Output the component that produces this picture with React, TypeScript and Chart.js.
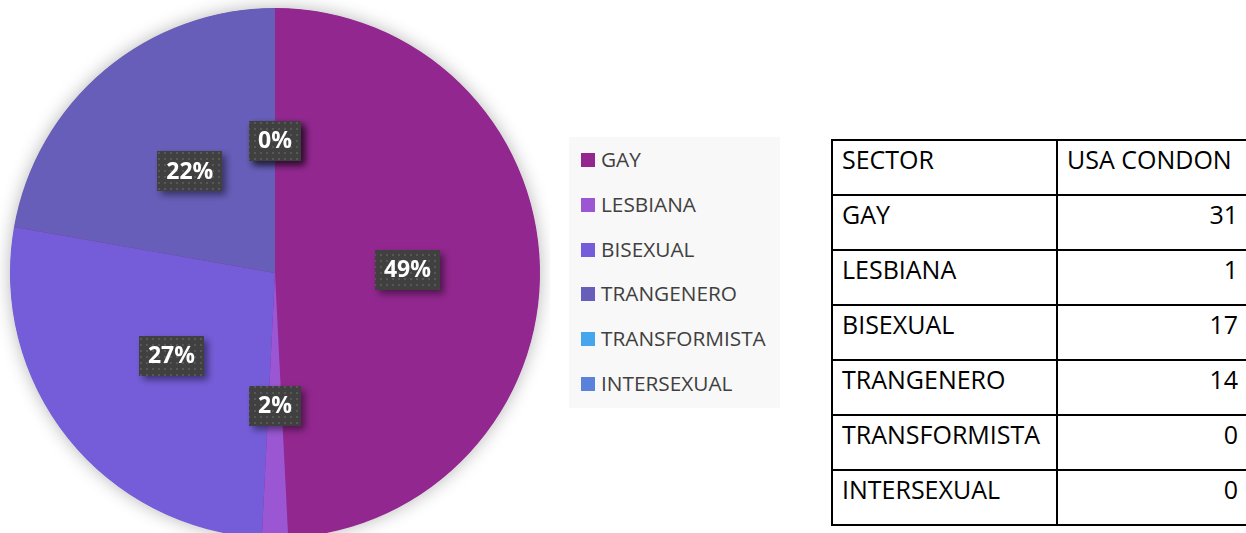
import React, { useEffect, useRef } from 'react';
import { Chart, registerables } from 'chart.js';

Chart.register(...registerables);

const categories = ['GAY', 'LESBIANA', 'BISEXUAL', 'TRANGENERO', 'TRANSFORMISTA', 'INTERSEXUAL'];
const values = [31, 1, 17, 14, 0, 0];
const colors = ['#92278F', '#9B57D3', '#755DD9', '#665EB8', '#45A5ED', '#5982DB'];
const tableHeader = ['SECTOR', 'USA CONDON'];

const FONT = '"Open Sans", "DejaVu Sans", sans-serif';

export default function App() {
  const ref = useRef<HTMLCanvasElement>(null);

  useEffect(() => {
    const canvas = ref.current;
    if (!canvas) return;
    const total = values.reduce((a, b) => a + b, 0);

    const pc = document.createElement('canvas');
    pc.width = 6;
    pc.height = 6;
    const pctx = pc.getContext('2d')!;
    pctx.fillStyle = '#404040';
    pctx.fillRect(0, 0, 6, 6);
    pctx.fillStyle = '#575757';
    pctx.fillRect(2, 2, 2, 2);

    const shadowPlugin = {
      id: 'pieShadow',
      beforeDatasetsDraw(chart: any) {
        const arc = chart.getDatasetMeta(0).data[0];
        if (!arc) return;
        const { x, y, outerRadius } = arc.getProps(['x', 'y', 'outerRadius'], true);
        const ctx = chart.ctx;
        ctx.save();
        ctx.shadowColor = 'rgba(0,0,0,0.3)';
        ctx.shadowBlur = 18;
        ctx.fillStyle = colors[0];
        ctx.beginPath();
        ctx.arc(x, y, outerRadius - 0.5, 0, Math.PI * 2);
        ctx.fill();
        ctx.restore();
      },
    };

    const labelPlugin = {
      id: 'pctLabels',
      afterDatasetsDraw(chart: any) {
        const ctx = chart.ctx;
        const pattern = ctx.createPattern(pc, 'repeat');
        const meta = chart.getDatasetMeta(0);
        meta.data.forEach((arc: any, i: number) => {
          const p = arc.getCenterPoint();
          const txt = Math.round((values[i] / total) * 100) + '%';
          ctx.save();
          ctx.font = `bold 23px ${FONT}`;
          const w = ctx.measureText(txt).width + 18;
          const h = 40;
          ctx.shadowColor = 'rgba(0,0,0,0.45)';
          ctx.shadowBlur = 7;
          ctx.shadowOffsetX = 4;
          ctx.shadowOffsetY = 4;
          ctx.fillStyle = pattern || '#404040';
          ctx.fillRect(Math.round(p.x - w / 2), Math.round(p.y - h / 2), Math.round(w), h);
          ctx.shadowColor = 'transparent';
          ctx.fillStyle = '#ffffff';
          ctx.textAlign = 'center';
          ctx.textBaseline = 'middle';
          ctx.fillText(txt, p.x, p.y + 1);
          ctx.restore();
        });
      },
    };

    const chart = new Chart(canvas, {
      type: 'pie',
      data: {
        labels: categories,
        datasets: [{ data: values, backgroundColor: colors, borderWidth: 0 }],
      },
      options: {
        responsive: false,
        animation: false,
        devicePixelRatio: 1,
        layout: { padding: { top: 8, bottom: 8, left: 10, right: 10 } },
        plugins: { legend: { display: false }, tooltip: { enabled: false } },
      },
      plugins: [shadowPlugin, labelPlugin],
    } as any);
    return () => chart.destroy();
  }, []);

  const rowTop = (i: number) => 139 + 55 * i;
  const tableRows = [tableHeader, ...categories.map((c, i) => [c, String(values[i])])];

  return (
    <div style={{ position: 'fixed', left: 0, top: 0, width: 1246, height: 533, overflow: 'hidden', background: '#fff', fontFamily: FONT }}>
      <canvas ref={ref} width={550} height={546} style={{ position: 'absolute', left: 0, top: 0, width: 550, height: 546 }} />

      <div style={{ position: 'absolute', left: 569, top: 137, width: 211, height: 271, background: '#F8F8F8' }} />
      {categories.map((c, i) => {
        const cy = 160 + 44.8 * i;
        return (
          <React.Fragment key={c}>
            <div style={{ position: 'absolute', left: 581, top: Math.round(cy - 7), width: 14, height: 14, background: colors[i] }} />
            <div style={{ position: 'absolute', left: 601, top: Math.round(cy - 11), height: 20, lineHeight: '20px', fontSize: 20.8, color: '#404040', whiteSpace: 'nowrap' }}>{c}</div>
          </React.Fragment>
        );
      })}

      {tableRows.map((_, i) => (
        <div key={'h' + i} style={{ position: 'absolute', left: 831, top: rowTop(i), width: 420, height: 2, background: '#000' }} />
      ))}
      <div style={{ position: 'absolute', left: 831, top: rowTop(tableRows.length), width: 420, height: 2, background: '#000' }} />
      <div style={{ position: 'absolute', left: 831, top: 139, width: 2, height: 55 * tableRows.length + 2, background: '#000' }} />
      <div style={{ position: 'absolute', left: 1056, top: 139, width: 2, height: 55 * tableRows.length + 2, background: '#000' }} />
      <div style={{ position: 'absolute', left: 1246, top: 139, width: 2, height: 55 * tableRows.length + 2, background: '#000' }} />

      {tableRows.map((r, i) => (
        <React.Fragment key={'r' + i}>
          <div style={{ position: 'absolute', left: 842, top: 142 + 55 * i, fontSize: 25, lineHeight: '34px', color: '#000', whiteSpace: 'nowrap' }}>{r[0]}</div>
          {i === 0 ? (
            <div style={{ position: 'absolute', left: 1067, top: 142, fontSize: 25, lineHeight: '34px', color: '#000', whiteSpace: 'nowrap' }}>{r[1]}</div>
          ) : (
            <div style={{ position: 'absolute', right: 1246 - 1238, top: 142 + 55 * i, fontSize: 25, lineHeight: '34px', color: '#000', whiteSpace: 'nowrap', textAlign: 'right' }}>{r[1]}</div>
          )}
        </React.Fragment>
      ))}
    </div>
  );
}
